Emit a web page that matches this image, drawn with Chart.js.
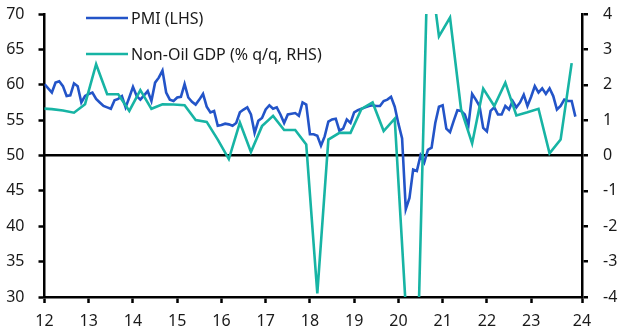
<!DOCTYPE html>
<html>
<head>
<meta charset="utf-8">
<script src="https://cdn.jsdelivr.net/npm/chart.js@4"></script>
<style>
  html, body { margin: 0; padding: 0; background: #fff; }
  #wrap { width: 621px; height: 336px; }
</style>
</head>
<body>
<div id="wrap"><canvas id="chart" width="621" height="336"></canvas></div>
<script>
// Year labels along the bottom axis (two-digit years)
const yearTicks = ['12', '13', '14', '15', '16', '17', '18', '19', '20', '21', '22', '23', '24'];

const pmiLabel = 'PMI (LHS)';
const gdpLabel = 'Non-Oil GDP (% q/q, RHS)';

// Monthly PMI, starting Jan 2012
const pmiStart = 2012;
const pmi = [
  60.1, 59.5, 58.9, 60.3, 60.5, 59.8, 58.4, 58.5, 60.2, 59.8, 57.5, 58.4, // 2012
  58.7, 58.9, 58.0, 57.5, 57.0, 56.8, 56.6, 57.8, 58.0, 58.4, 56.8, 58.2, // 2013
  59.7, 58.4, 57.9, 58.5, 59.1, 57.7, 60.3, 61.0, 62.0, 58.9, 57.9, 57.7, // 2014
  58.2, 58.3, 60.1, 58.2, 57.6, 57.2, 57.9, 58.7, 56.9, 56.1, 56.3, 54.2, // 2015
  54.3, 54.5, 54.4, 54.2, 54.6, 56.1, 56.5, 56.8, 55.8, 53.2, 54.9, 55.3, // 2016
  56.5, 57.1, 56.6, 56.8, 55.8, 54.6, 55.8, 55.9, 56.0, 55.6, 57.5, 57.2, // 2017
  53.0, 53.0, 52.8, 51.4, 52.7, 54.8, 55.1, 55.2, 53.5, 53.8, 55.1, 54.6, // 2018
  56.1, 56.4, 56.6, 56.8, 57.0, 57.1, 57.0, 57.0, 57.7, 57.9, 58.3, 56.9, // 2019
  54.5, 52.4, 42.4, 44.0, 48.0, 47.8, 50.0, 49.0, 50.8, 51.1, 54.6, 56.9, // 2020
  57.1, 53.8, 53.3, 54.9, 56.4, 56.3, 55.8, 54.3, 58.7, 57.9, 57.0, 53.9, // 2021
  53.4, 56.3, 56.8, 55.8, 55.8, 57.0, 56.5, 57.7, 56.8, 57.5, 58.6, 57.0, // 2022
  58.3, 59.8, 58.9, 59.5, 58.7, 59.5, 58.4, 56.5, 57.0, 57.9, 57.7, 57.7, // 2023
  55.5                                                                    // 2024
];

// Quarterly non-oil GDP growth, % q/q, starting Q4 2011
const gdpStart = [2011, 4];
const gdp = [
  1.33,                         // 2011 Q4
  1.31, 1.27, 1.21, 1.45,       // 2012
  2.58, 1.73, 1.73, 1.26,       // 2013
  1.85, 1.32, 1.45, 1.44,       // 2014
  1.42, 1.00, 0.95, 0.45,       // 2015
  -0.10, 0.93, 0.10, 0.83,      // 2016
  1.12, 0.72, 0.72, 0.31,       // 2017
  -3.90, 0.45, 0.64, 0.64,      // 2018
  1.32, 1.50, 0.69, 1.04,       // 2019
  -4.30, -6.50, 5.80, 3.37,     // 2020
  3.90, 1.30, 0.34, 1.89,       // 2021
  1.40, 2.06, 1.13, 1.22,       // 2022
  1.32, 0.06, 0.45, 2.61        // 2023
];

const BLUE = '#2354c8';
const TEAL = '#17b4a4';
const INK = '#1a1a1a';
const FONT = '"Noto Sans", "Open Sans", sans-serif';

// x is in two-digit years; months sit at year + m/12, quarters at their last month
const pmiPoints = pmi.map((v, i) => ({ x: (pmiStart - 2000) + i / 12, y: v }));
const gdpPoints = gdp.map((v, i) => ({
  x: (gdpStart[0] - 2000) + (gdpStart[1] * 3 - 1) / 12 + i / 4,
  y: v
}));

// legend: short line sample + label, stacked in the top-left of the plot
const lineLegend = {
  id: 'lineLegend',
  afterDatasetsDraw(chart) {
    const ctx = chart.ctx;
    const rows = [18, 54];
    ctx.save();
    ctx.font = '16px ' + FONT;
    ctx.textBaseline = 'middle';
    chart.data.datasets.forEach((ds, i) => {
      const y = rows[i];
      ctx.strokeStyle = ds.borderColor;
      ctx.lineWidth = 2.6;
      ctx.beginPath();
      ctx.moveTo(86, y);
      ctx.lineTo(128, y);
      ctx.stroke();
      ctx.fillStyle = INK;
      ctx.fillText(ds.label, 131, y + 1);
    });
    ctx.restore();
  }
};

const axisLine = { color: '#000', width: 2.5 };
const tickFont = { family: FONT, size: 16 };

// fixed axis widths; drop the label overhang so the plot keeps its own top/bottom
const fixWidth = (w) => (s) => {
  s.width = w;
  s.paddingTop = 0;
  s.paddingBottom = 0;
};

new Chart(document.getElementById('chart'), {
  type: 'line',
  data: {
    datasets: [{
      label: pmiLabel,
      data: pmiPoints,
      yAxisID: 'y',
      borderColor: BLUE,
      borderWidth: 2.6,
      pointRadius: 0,
      tension: 0,
      clip: 0,
      order: 1
    }, {
      label: gdpLabel,
      data: gdpPoints,
      yAxisID: 'y2',
      borderColor: TEAL,
      borderWidth: 2.6,
      pointRadius: 0,
      tension: 0,
      clip: 0,
      order: 0
    }]
  },
  options: {
    responsive: false,
    animation: false,
    devicePixelRatio: 1,
    layout: { padding: { top: 14, left: 0, right: 0, bottom: 0 } },
    plugins: {
      legend: { display: false },
      tooltip: { enabled: false }
    },
    scales: {
      x: {
        type: 'linear',
        min: 12,
        max: 24.15,
        border: axisLine,
        grid: { drawOnChartArea: false, tickLength: 6, tickWidth: 2.5, tickColor: '#000' },
        ticks: {
          stepSize: 1,
          autoSkip: false,
          maxRotation: 0,
          padding: 9,
          color: INK,
          font: tickFont,
          callback: (v) => yearTicks[Math.round(v) - 12]
        },
        afterFit: (s) => { s.height = 39; }
      },
      y: {
        position: 'left',
        min: 30,
        max: 70,
        border: axisLine,
        grid: { drawOnChartArea: false, tickLength: 6, tickWidth: 2.5, tickColor: '#000' },
        ticks: { stepSize: 5, padding: 14, color: INK, font: tickFont },
        afterFit: fixWidth(44.5)
      },
      y2: {
        position: 'right',
        min: -4,
        max: 4,
        border: axisLine,
        grid: {
          drawOnChartArea: true,
          // only the zero line is drawn across the plot
          color: (c) => (c.tick && c.tick.value === 0 ? '#000' : 'rgba(0,0,0,0)'),
          lineWidth: 2.5,
          tickLength: 6,
          tickWidth: 2.5,
          tickColor: '#000'
        },
        ticks: { stepSize: 1, padding: 15, color: INK, font: tickFont },
        afterFit: fixWidth(39)
      }
    }
  },
  plugins: [lineLegend]
});
</script>
</body>
</html>
